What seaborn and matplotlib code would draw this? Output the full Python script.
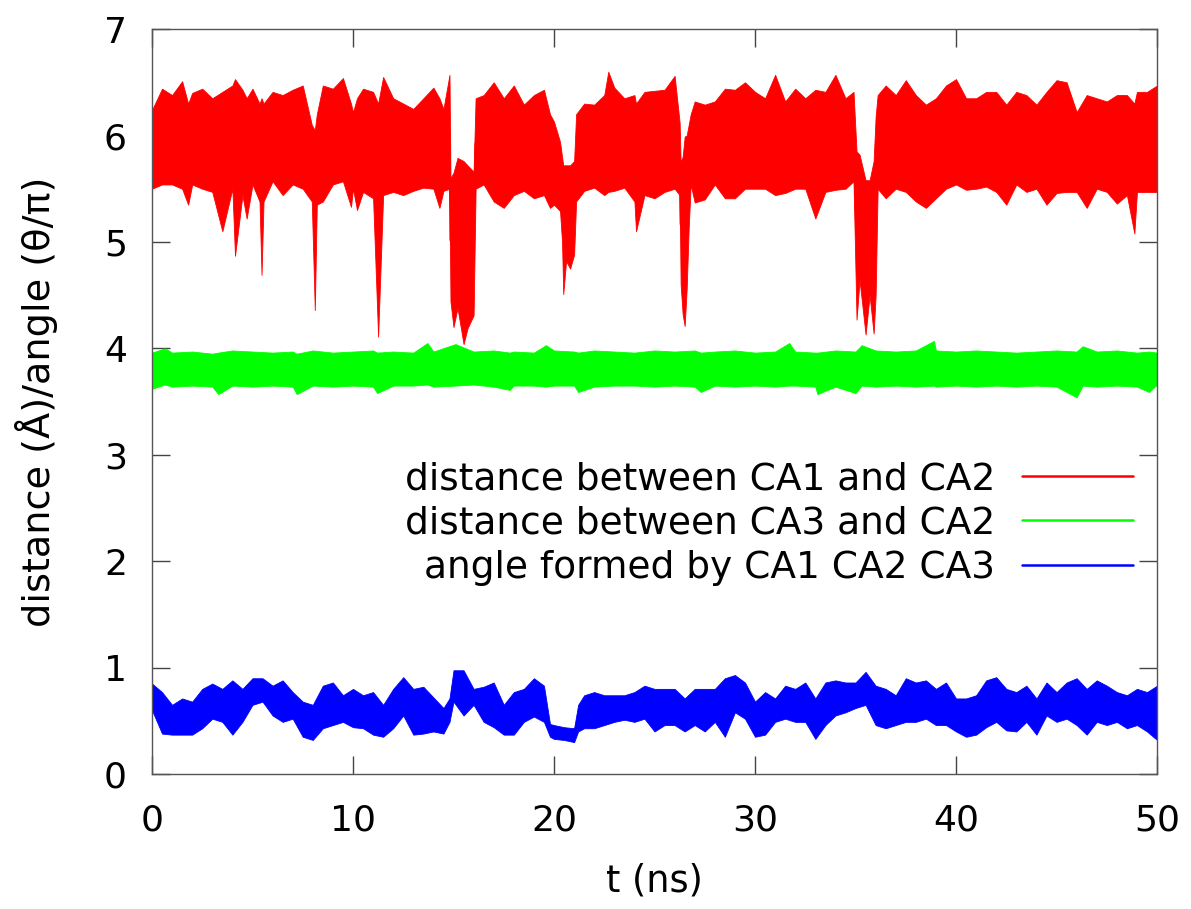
import numpy as np
import pandas as pd
import matplotlib
matplotlib.use("Agg")
import matplotlib.pyplot as plt
import seaborn as sns

# ---------------- data ----------------
series_names = ["distance between CA1 and CA2",
                "distance between CA3 and CA2",
                "angle formed by CA1 CA2 CA3"]
series_colors = ["#ff0000", "#00ff00", "#0000ff"]

# red: envelope (upper / lower edge) of the CA1-CA2 distance trace
t_red = [0.0, 0.5, 1.0, 1.5, 1.8, 2.0, 2.5, 3.0, 3.5, 4.0, 4.13, 4.5, 4.71, 5.0, 5.35, 5.45, 5.55,
         6.0, 6.5, 7.0, 7.5, 7.95, 8.1, 8.2, 8.5, 9.0, 9.5, 9.9, 10.0, 10.2, 10.5, 11.0, 11.25,
         11.5, 12.0, 12.5, 13.0, 13.5, 14.0, 14.3, 14.5, 14.8, 14.85, 15.0, 15.2, 15.5, 15.7,
         16.0, 16.1, 16.5, 17.0, 17.5, 18.0, 18.5, 19.0, 19.5, 19.8, 20.0, 20.3, 20.4, 20.46,
         20.6, 20.8, 21.0, 21.1, 21.5, 22.0, 22.5, 22.7, 23.0, 23.5, 24.0, 24.08, 24.5, 25.0,
         25.5, 26.0, 26.25, 26.3, 26.4, 26.5, 26.6, 26.7, 26.8, 27.0, 27.5, 28.0, 28.5, 29.0,
         29.5, 30.0, 30.5, 31.0, 31.5, 32.0, 32.5, 33.0, 33.5, 34.0, 34.5, 34.9, 35.05, 35.2,
         35.5, 35.7, 35.9, 36.0, 36.1, 36.5, 37.0, 37.5, 38.0, 38.5, 39.0, 39.5, 40.0, 40.5,
         41.0, 41.5, 42.0, 42.5, 43.0, 43.5, 44.0, 44.5, 45.0, 45.5, 46.0, 46.5, 47.0, 47.5,
         48.0, 48.5, 48.87, 49.0, 49.5, 50.0]
red_hi = [6.24, 6.44, 6.38, 6.51, 6.30, 6.40, 6.44, 6.35, 6.41, 6.47, 6.53, 6.43, 6.35, 6.44, 6.30, 6.35, 6.30,
          6.41, 6.38, 6.43, 6.47, 6.10, 6.05, 6.20, 6.47, 6.44, 6.54, 6.30, 6.22, 6.35, 6.44, 6.41, 6.30,
          6.55, 6.35, 6.30, 6.25, 6.35, 6.45, 6.35, 6.25, 6.57, 5.60, 5.65, 5.79, 5.76, 5.72,
          5.66, 6.35, 6.38, 6.50, 6.35, 6.47, 6.29, 6.38, 6.43, 6.20, 6.13, 5.94, 5.80, 5.72,
          5.72, 5.72, 5.76, 6.20, 6.30, 6.29, 6.38, 6.60, 6.45, 6.35, 6.38, 6.30, 6.41, 6.42,
          6.43, 6.56, 6.12, 5.75, 5.80, 5.99, 6.00, 6.10, 6.20, 6.32, 6.29, 6.32, 6.44, 6.43,
          6.50, 6.41, 6.35, 6.57, 6.32, 6.44, 6.35, 6.43, 6.41, 6.57, 6.35, 6.41, 5.85, 5.82,
          5.58, 5.58, 5.76, 6.18, 6.38, 6.47, 6.38, 6.52, 6.38, 6.29, 6.35, 6.47, 6.53, 6.35,
          6.35, 6.41, 6.41, 6.29, 6.41, 6.38, 6.29, 6.41, 6.52, 6.50, 6.22, 6.38, 6.35, 6.32,
          6.38, 6.38, 6.30, 6.41, 6.41, 6.47]
red_lo = [5.50, 5.54, 5.54, 5.50, 5.35, 5.54, 5.50, 5.47, 5.10, 5.50, 4.87, 5.44, 5.22, 5.54, 5.38, 4.69, 5.38,
          5.57, 5.44, 5.54, 5.50, 5.38, 4.36, 5.35, 5.38, 5.54, 5.57, 5.33, 5.50, 5.30, 5.47, 5.41, 4.11,
          5.44, 5.47, 5.44, 5.48, 5.51, 5.50, 5.32, 5.48, 5.50, 4.44, 4.20, 4.38, 4.04, 4.19,
          4.31, 5.50, 5.54, 5.38, 5.32, 5.44, 5.48, 5.41, 5.44, 5.32, 5.35, 5.29, 5.00, 4.51,
          4.82, 4.75, 4.88, 5.38, 5.48, 5.51, 5.44, 5.47, 5.48, 5.51, 5.38, 5.10, 5.44, 5.41,
          5.47, 5.50, 5.44, 4.60, 4.32, 4.21, 4.56, 5.13, 5.54, 5.37, 5.40, 5.54, 5.41, 5.41,
          5.50, 5.50, 5.50, 5.44, 5.46, 5.50, 5.50, 5.22, 5.47, 5.49, 5.50, 5.57, 4.27, 4.64,
          4.13, 4.50, 4.14, 4.50, 5.50, 5.41, 5.50, 5.47, 5.38, 5.32, 5.41, 5.50, 5.54, 5.49,
          5.50, 5.52, 5.47, 5.35, 5.54, 5.47, 5.50, 5.35, 5.46, 5.47, 5.47, 5.32, 5.50, 5.47,
          5.36, 5.44, 5.08, 5.47, 5.47, 5.47]

# green: envelope of the CA3-CA2 distance trace
t_green = [0.0, 0.65, 1.0, 2.0, 3.0, 3.3, 4.0, 5.0, 6.0, 7.0, 7.2, 8.0, 9.0, 10.0, 11.0, 11.2, 12.0,
           13.0, 13.7, 14.0, 15.1, 16.0, 17.0, 17.8, 18.0, 19.0, 19.6, 20.0, 21.0, 21.2, 22.0,
           23.0, 24.0, 25.0, 26.0, 27.0, 27.3, 28.0, 29.0, 30.0, 31.0, 31.7, 32.0, 33.0, 33.1,
           34.0, 35.0, 35.3, 36.0, 37.0, 38.0, 38.9, 39.0, 40.0, 41.0, 42.0, 43.0, 44.0, 45.0,
           46.0, 46.3, 47.0, 48.0, 49.0, 49.6, 50.0]
green_hi = [3.96, 4.00, 3.96, 3.97, 3.95, 3.96, 3.98, 3.97, 3.96, 3.97, 3.95, 3.98, 3.96, 3.97, 3.98, 3.96, 3.97,
            3.96, 4.05, 3.97, 4.04, 3.97, 3.98, 3.96, 3.97, 3.96, 4.03, 3.98, 3.97, 3.96, 3.98,
            3.97, 3.96, 3.98, 3.97, 3.98, 3.96, 3.97, 3.98, 3.96, 3.97, 4.05, 3.97, 3.96, 3.96,
            3.98, 3.97, 4.03, 3.98, 3.97, 3.98, 4.07, 3.98, 3.97, 3.98, 3.97, 3.96, 3.97, 3.98,
            3.97, 4.02, 3.97, 3.98, 3.96, 3.97, 3.96]
green_lo = [3.62, 3.66, 3.64, 3.65, 3.64, 3.57, 3.65, 3.64, 3.65, 3.64, 3.57, 3.65, 3.64, 3.65, 3.64, 3.58, 3.65,
            3.65, 3.66, 3.64, 3.65, 3.66, 3.64, 3.61, 3.65, 3.65, 3.64, 3.65, 3.65, 3.59, 3.64,
            3.65, 3.65, 3.64, 3.65, 3.64, 3.59, 3.65, 3.64, 3.65, 3.64, 3.65, 3.65, 3.64, 3.57,
            3.64, 3.58, 3.65, 3.64, 3.65, 3.64, 3.65, 3.64, 3.65, 3.64, 3.65, 3.64, 3.65, 3.64,
            3.54, 3.65, 3.64, 3.65, 3.64, 3.59, 3.66]

# blue: envelope of the CA1-CA2-CA3 angle trace (theta/pi)
t_blue = [0.0, 0.5, 1.0, 1.5, 2.0, 2.5, 3.0, 3.5, 4.0, 4.5, 5.0, 5.5, 6.0, 6.5, 7.0, 7.5, 8.0, 8.5,
          9.0, 9.5, 10.0, 10.5, 11.0, 11.5, 12.0, 12.5, 13.0, 13.5, 14.0, 14.5, 14.8, 15.0, 15.5,
          16.0, 16.5, 17.0, 17.5, 18.0, 18.5, 19.0, 19.5, 19.8, 20.0, 20.5, 21.0, 21.2, 21.5,
          22.0, 22.5, 23.0, 23.5, 24.0, 24.5, 25.0, 25.5, 26.0, 26.5, 27.0, 27.5, 28.0, 28.5,
          29.0, 29.5, 30.0, 30.5, 31.0, 31.5, 32.0, 32.5, 33.0, 33.5, 34.0, 34.5, 35.0, 35.5,
          36.0, 36.5, 37.0, 37.5, 38.0, 38.5, 39.0, 39.5, 40.0, 40.5, 41.0, 41.5, 42.0, 42.5,
          43.0, 43.5, 44.0, 44.5, 45.0, 45.5, 46.0, 46.5, 47.0, 47.5, 48.0, 48.5, 49.0, 49.5, 50.0]
blue_hi = [0.85, 0.77, 0.65, 0.71, 0.68, 0.80, 0.85, 0.80, 0.88, 0.80, 0.90, 0.90, 0.83, 0.88, 0.77, 0.68, 0.65, 0.83,
           0.86, 0.74, 0.80, 0.74, 0.77, 0.65, 0.80, 0.91, 0.80, 0.82, 0.72, 0.62, 0.71, 0.975, 0.975,
           0.80, 0.82, 0.86, 0.65, 0.77, 0.80, 0.90, 0.83, 0.47, 0.46, 0.44, 0.43, 0.65, 0.74,
           0.77, 0.74, 0.74, 0.74, 0.77, 0.83, 0.80, 0.80, 0.80, 0.71, 0.80, 0.80, 0.80, 0.90,
           0.93, 0.86, 0.68, 0.77, 0.71, 0.83, 0.80, 0.86, 0.71, 0.86, 0.88, 0.86, 0.86, 0.96,
           0.83, 0.80, 0.74, 0.90, 0.86, 0.88, 0.80, 0.86, 0.71, 0.71, 0.74, 0.88, 0.91, 0.80,
           0.77, 0.83, 0.71, 0.86, 0.77, 0.86, 0.90, 0.80, 0.88, 0.83, 0.77, 0.74, 0.80, 0.77, 0.83]
blue_lo = [0.60, 0.38, 0.37, 0.37, 0.37, 0.43, 0.52, 0.49, 0.37, 0.49, 0.65, 0.68, 0.55, 0.49, 0.52, 0.35, 0.32, 0.43,
           0.46, 0.49, 0.44, 0.43, 0.37, 0.35, 0.43, 0.55, 0.37, 0.38, 0.40, 0.38, 0.49, 0.68, 0.55,
           0.65, 0.49, 0.44, 0.37, 0.37, 0.49, 0.54, 0.49, 0.35, 0.33, 0.32, 0.30, 0.40, 0.43,
           0.43, 0.46, 0.49, 0.51, 0.49, 0.52, 0.40, 0.46, 0.46, 0.40, 0.46, 0.40, 0.49, 0.35,
           0.58, 0.52, 0.35, 0.37, 0.49, 0.52, 0.49, 0.49, 0.33, 0.46, 0.55, 0.58, 0.62, 0.65,
           0.46, 0.43, 0.46, 0.49, 0.49, 0.52, 0.46, 0.46, 0.40, 0.35, 0.37, 0.44, 0.49, 0.41,
           0.40, 0.49, 0.37, 0.55, 0.49, 0.52, 0.46, 0.37, 0.49, 0.46, 0.49, 0.43, 0.46, 0.40, 0.32]

x_ticks = [0, 10, 20, 30, 40, 50]
y_ticks = [0, 1, 2, 3, 4, 5, 6, 7]
x_label = "t (ns)"
y_label = "distance (Å)/angle (θ/π)"

# ---------------- long table: two rows (upper/lower edge) per time ----------------
rows = []
for name, tt, hi, lo in [(series_names[0], t_red, red_hi, red_lo),
                         (series_names[1], t_green, green_hi, green_lo),
                         (series_names[2], t_blue, blue_hi, blue_lo)]:
    for ti, h, l in zip(tt, hi, lo):
        rows.append((name, ti, h))
        rows.append((name, ti, l))
df = pd.DataFrame(rows, columns=["series", "t", "value"])

# ---------------- plot ----------------
sns.set_theme(style="ticks")
plt.rcParams["font.family"] = ["DejaVu Sans"]
plt.rcParams["text.color"] = "black"
plt.rcParams["axes.labelcolor"] = "black"

fig = plt.figure(figsize=(11.91, 9.09), dpi=100)
ax = fig.add_axes([0.1276, 0.1485, 0.8439, 0.8195])

sns.lineplot(data=df, x="t", y="value", hue="series", hue_order=series_names,
             palette=series_colors, estimator="mean", errorbar=("pi", 100),
             err_kws={"alpha": 1, "linewidth": 0.6}, linewidth=1.5,
             legend=False, ax=ax)

ax.set_xlim(0, 50)
ax.set_ylim(0, 7)
ax.set_xticks(x_ticks)
ax.set_yticks(y_ticks)
ax.set_xlabel(x_label, fontsize=26.5, labelpad=18)
ax.set_ylabel(y_label, fontsize=27.5, labelpad=33)
ax.tick_params(direction="in", length=13, width=1.0, color="#444444",
               top=True, right=True, labelsize=26, labelcolor="black")
ax.tick_params(axis="x", pad=21)
ax.tick_params(axis="y", pad=18)
for s in ax.spines.values():
    s.set_color("#555555")
    s.set_linewidth(1.0)

leg = ax.legend(ax.lines[:3], series_names, loc="upper right",
                bbox_to_anchor=(0.976, 0.42), markerfirst=False, frameon=False,
                fontsize=27, handlelength=2.96, handletextpad=0.72,
                borderpad=0, borderaxespad=0, labelspacing=0.22)
for line in leg.get_lines():
    line.set_linewidth(1.8)

fig.savefig("out.png", dpi=100)
